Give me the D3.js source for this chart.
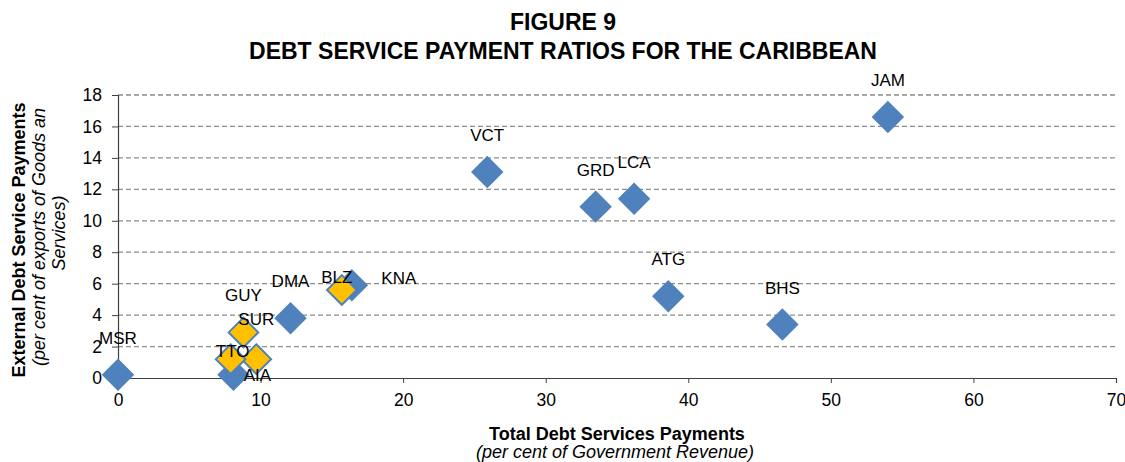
<!DOCTYPE html>
<html>
<head>
<meta charset="utf-8">
<script src="https://cdn.jsdelivr.net/npm/d3@7"></script>
<style>
  html, body { margin: 0; padding: 0; background: #fff; }
  svg { display: block; font-family: "Liberation Sans", Arial, sans-serif; }
</style>
</head>
<body>
<svg id="chart" width="1125" height="462"></svg>
<script>
// ---- data ----
const codes   = ["MSR", "JAM", "VCT", "GRD", "LCA", "ATG", "BHS", "DMA", "KNA", "AIA", "GUY", "SUR", "TTO", "BLZ"];
const xValues = [0.0,   54.0,  25.9,  33.5,  36.2,  38.6,  46.6,  12.1,  16.4,  8.1,   8.8,   9.7,   7.9,   15.7];
const yValues = [0.2,   16.6,  13.1,  10.9,  11.4,  5.2,   3.4,   3.8,   5.9,   0.2,   2.9,   1.2,   1.2,   5.6];
const groups  = ["service","service","service","service","service","service","service","service","service","service",
                 "commodity","commodity","commodity","commodity"];
const xTicks = [0, 10, 20, 30, 40, 50, 60, 70];
const yTicks = [0, 2, 4, 6, 8, 10, 12, 14, 16, 18];

const titleLines = ["FIGURE 9", "DEBT SERVICE PAYMENT RATIOS FOR THE CARIBBEAN"];
const xTitle = "Total Debt Services Payments";
const xSubtitle = "(per cent of Government Revenue)";
const yTitle = "External Debt Service Payments";
const ySubtitle = ["(per cent of exports of Goods an", "Services)"];

// label placement tweaks (layout only), relative to the default above-the-marker spot
const labelShift = {
  KNA: [47, 30], BLZ: [-5, 24], TTO: [2, 29], AIA: [24, 37], SUR: [0, -3]
};

// ---- layout ----
const svg = d3.select("#chart");
const plot = { left: 118, right: 1116, top: 95, bottom: 378 };

const x = d3.scaleLinear().domain([0, 70]).range([plot.left, plot.right]);
const y = d3.scaleLinear().domain([0, 18]).range([plot.bottom, plot.top]);

const colors = { service: "#4F81BD", commodity: "#FFC000" };

// title
svg.append("g").selectAll("text").data(titleLines).join("text")
  .attr("x", 563).attr("y", (d, i) => 30 + i * 29)
  .attr("text-anchor", "middle")
  .attr("font-weight", "bold").attr("font-size", 23)
  .attr("fill", "#000")
  .text(d => d);

// gridlines
svg.append("g").selectAll("line").data(yTicks.filter(d => d > 0)).join("line")
  .attr("x1", plot.left).attr("x2", plot.right)
  .attr("y1", d => y(d)).attr("y2", d => y(d))
  .attr("stroke", "#8C8C8C").attr("stroke-width", 1.3)
  .attr("stroke-dasharray", "5,3");

// y axis
const yAxis = d3.axisLeft(y).tickValues(yTicks).tickSize(6).tickPadding(10).tickFormat(d3.format("d"));
const gy = svg.append("g").attr("transform", `translate(${plot.left},0)`).call(yAxis);
gy.select(".domain").attr("stroke", "#404040").attr("stroke-width", 1.2);
gy.selectAll(".tick line").attr("stroke", "#404040");
gy.selectAll(".tick text").attr("font-size", 17.5).attr("fill", "#000")
  .attr("font-family", "Liberation Sans, Arial, sans-serif");

// x axis
const xAxis = d3.axisBottom(x).tickValues(xTicks).tickSize(5).tickPadding(11).tickFormat(d3.format("d"));
const gx = svg.append("g").attr("transform", `translate(0,${plot.bottom})`).call(xAxis);
gx.select(".domain").attr("stroke", "#404040").attr("stroke-width", 1.2);
gx.selectAll(".tick line").attr("stroke", "#404040");
gx.selectAll(".tick text").attr("font-size", 17.5).attr("fill", "#000")
  .attr("font-family", "Liberation Sans, Arial, sans-serif");

// axis titles
svg.append("text").attr("x", 617).attr("y", 440).attr("text-anchor", "middle")
  .attr("font-weight", "bold").attr("font-size", 18).text(xTitle);
svg.append("text").attr("x", 615).attr("y", 458).attr("text-anchor", "middle")
  .attr("font-style", "italic").attr("font-size", 18).text(xSubtitle);

const yt = svg.append("g").attr("transform", "translate(25,240) rotate(-90)");
yt.append("text").attr("x", 0).attr("y", 0).attr("text-anchor", "middle")
  .attr("font-weight", "bold").attr("font-size", 18).text(yTitle);
yt.selectAll("text.sub").data(ySubtitle).join("text").attr("class", "sub")
  .attr("x", (d, i) => 3 + i * 4).attr("y", (d, i) => 20 + i * 20).attr("text-anchor", "middle")
  .attr("font-style", "italic").attr("font-size", 18).text(d => d);

// points
const pts = codes.map((c, i) => ({ code: c, x: xValues[i], y: yValues[i], group: groups[i] }));
const order = ["service", "commodity"];
const sym = d3.symbol().type(d3.symbolDiamond2).size(560);

svg.append("g").selectAll("path")
  .data(pts.slice().sort((a, b) => order.indexOf(a.group) - order.indexOf(b.group)))
  .join("path")
  .attr("d", sym)
  .attr("transform", d => `translate(${x(d.x)},${y(d.y)})`)
  .attr("fill", d => colors[d.group])
  .attr("stroke", "#4F81BD")
  .attr("stroke-width", 2);

// labels
svg.append("g").selectAll("text").data(pts).join("text")
  .attr("x", d => x(d.x) + (labelShift[d.code] ? labelShift[d.code][0] : 0))
  .attr("y", d => y(d.y) - 31 + (labelShift[d.code] ? labelShift[d.code][1] : 0))
  .attr("text-anchor", "middle")
  .attr("font-size", 17).attr("fill", "#000")
  .text(d => d.code);
</script>
</body>
</html>
